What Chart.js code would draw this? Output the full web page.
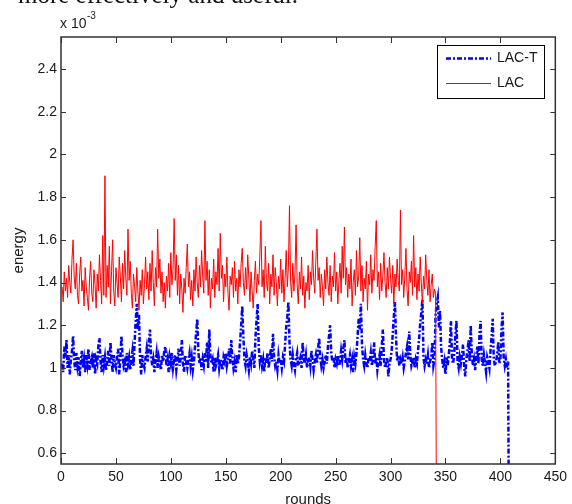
<!DOCTYPE html>
<html lang="en">
<head>
    <meta charset="UTF-8">
    <title>LAC vs LAC-T energy per round</title>
    <script src="https://cdn.jsdelivr.net/npm/chart.js@4.4.0/dist/chart.umd.min.js"></script>
    <style>
        body { margin: 0; background: #fff; }
        #wrap { position: relative; width: 572px; height: 504px; }
    </style>
</head>
<body>
    <div id="wrap">
        <canvas id="energyChart" width="572" height="504"></canvas>
    </div>
    <script>
    // axis ticks
    var roundTicks = [0, 50, 100, 150, 200, 250, 300, 350, 400, 450];
    var energyTicks = [0.6, 0.8, 1, 1.2, 1.4, 1.6, 1.8, 2, 2.2, 2.4];

    // energy (x 10^-3) per round, starting at round 1; last value is where the network dies
    var lacT = [
        1.02, 0.98, 1.10, 1.05, 1.13, 1.00, 1.06, 0.97, 1.04, 1.08, 1.15, 1.03, 0.99, 1.07, 1.01, 1.05, 0.96, 1.03, 1.08, 1.00,
        1.04, 0.98, 1.06, 1.02, 1.09, 0.99, 1.03, 1.05, 1.00, 1.07, 0.97, 1.04, 1.02, 1.10, 1.14, 1.03, 0.98, 1.06, 1.01, 1.05,
        0.99, 1.03, 1.08, 1.01, 1.12, 1.04, 0.98, 1.06, 1.02, 1.00, 1.05, 1.09, 0.97, 1.04, 1.15, 1.06, 1.01, 1.03, 0.98, 1.07,
        1.02, 1.05, 0.99, 1.04, 1.08, 1.01, 1.12, 1.22, 1.30, 1.18, 1.25, 1.04, 0.97, 1.06, 1.02, 1.00, 1.05, 1.09, 1.03, 1.12,
        1.18, 1.06, 1.01, 1.04, 0.98, 1.03, 1.07, 1.00, 1.05, 1.02, 0.99, 1.06, 1.03, 1.08, 1.10, 1.01, 1.04, 0.98, 1.05, 1.02,
        1.07, 1.00, 1.04, 1.06, 0.99, 1.03, 1.09, 1.01, 1.05, 1.13, 1.02, 0.98, 1.06, 1.03, 1.00, 1.04, 1.07, 1.01, 1.05, 0.99,
        1.03, 1.10, 1.16, 1.23, 1.08, 1.02, 1.05, 0.99, 1.04, 1.01, 1.07, 1.03, 1.12, 1.00, 1.18, 1.06, 1.02, 1.04, 0.98, 1.05,
        1.01, 1.03, 1.06, 1.00, 1.04, 1.02, 0.99, 1.05, 1.03, 1.07, 1.01, 1.04, 1.09, 1.02, 1.13, 1.05, 1.00, 1.03, 0.98, 1.06,
        1.02, 1.05, 1.12, 1.20, 1.29, 1.15, 1.04, 1.01, 1.06, 1.03, 0.99, 1.05, 1.02, 1.08, 1.04, 1.00, 1.14, 1.22, 1.30, 1.10,
        1.03, 1.06, 1.01, 1.04, 0.98, 1.05, 1.02, 1.07, 1.00, 1.04, 1.09, 1.03, 1.16, 1.05, 1.01, 1.03, 0.99, 1.06, 1.02, 1.04,
        1.00, 1.05, 1.03, 1.11, 1.19, 1.24, 1.31, 1.12, 1.04, 1.01, 1.06, 1.02, 0.99, 1.04, 1.07, 1.01, 1.03, 1.05, 1.00, 1.12,
        1.04, 1.02, 1.06, 1.00, 1.03, 1.05, 1.01, 1.08, 1.04, 0.99, 1.03, 1.06, 1.02, 1.09, 1.14, 1.05, 1.01, 1.04, 1.00, 1.03,
        1.06, 1.02, 1.10, 1.15, 1.20, 1.07, 1.03, 1.05, 1.00, 1.04, 1.02, 1.06, 1.01, 1.03, 1.08, 1.04, 1.09, 1.13, 1.02, 1.05,
        1.00, 1.03, 1.06, 1.01, 1.04, 0.98, 1.05, 1.02, 1.07, 1.15, 1.23, 1.18, 1.30, 1.11, 1.04, 1.01, 1.06, 1.02, 1.00, 1.05,
        1.03, 1.07, 1.01, 1.04, 1.12, 1.02, 1.05, 0.99, 1.03, 1.06, 1.01, 1.10, 1.18, 1.04, 1.00, 1.03, 1.05, 0.96, 1.02, 1.04,
        1.08, 1.16, 1.24, 1.31, 1.14, 1.03, 1.06, 1.01, 1.04, 1.02, 1.05, 1.00, 1.03, 1.07, 1.10, 1.04, 1.17, 1.06, 1.01, 1.03,
        1.05, 1.00, 1.04, 1.02, 1.08, 1.14, 1.21, 1.26, 1.32, 1.05, 1.01, 1.04, 1.02, 1.06, 1.00, 1.03, 1.05, 1.12, 1.01, 1.04,
        1.25, 1.30, 1.33, 1.19, 1.27, 1.10, 1.04, 1.00, 1.03, 0.97, 1.05, 1.01, 1.06, 1.12, 1.22, 1.04, 1.02, 1.07, 1.15, 1.22,
        1.03, 1.00, 1.05, 1.02, 1.06, 1.11, 1.01, 0.96, 1.04, 1.08, 1.13, 1.03, 1.20, 1.06, 1.01, 1.04, 0.99, 1.05, 1.10, 1.02,
        1.16, 1.22, 1.04, 1.01, 1.06, 1.02, 0.98, 1.05, 1.03, 1.00, 1.08, 1.15, 1.23, 1.04, 1.01, 1.03, 1.06, 1.12, 1.02, 1.04,
        1.18, 1.26, 1.05, 1.01, 1.04, 1.00, 1.03, 0
    ];
    var lac = [
        1.38, 1.31, 1.45, 1.36, 1.42, 1.33, 1.48, 1.40, 1.35, 1.51, 1.60, 1.43, 1.37, 1.49, 1.34, 1.30, 1.44, 1.52, 1.36, 1.41,
        1.29, 1.47, 1.38, 1.33, 1.27, 1.42, 1.50, 1.35, 1.31, 1.46, 1.39, 1.28, 1.44, 1.36, 1.53, 1.41, 1.30, 1.62, 1.34, 1.90,
        1.33, 1.48, 1.38, 1.57, 1.30, 1.45, 1.60, 1.36, 1.29, 1.47, 1.40, 1.33, 1.52, 1.43, 1.31, 1.49, 1.37, 1.55, 1.42, 1.34,
        1.65, 1.41, 1.50, 1.35, 1.28, 1.44, 1.38, 1.31, 1.47, 1.36, 1.27, 1.41, 1.34, 1.46, 1.30, 1.39, 1.52, 1.37, 1.45, 1.32,
        1.49, 1.36, 1.55, 1.40, 1.29, 1.47, 1.38, 1.65, 1.42, 1.51, 1.35, 1.45, 1.31, 1.40, 1.28, 1.43, 1.36, 1.49, 1.33, 1.54,
        1.39, 1.46, 1.70, 1.41, 1.53, 1.34, 1.48, 1.30, 1.44, 1.37, 1.26, 1.42, 1.35, 1.47, 1.58, 1.38, 1.45, 1.32, 1.41, 1.29,
        1.46, 1.36, 1.52, 1.40, 1.33, 1.48, 1.38, 1.55, 1.43, 1.35, 1.69, 1.41, 1.50, 1.34, 1.46, 1.28, 1.42, 1.37, 1.51, 1.33,
        1.45, 1.39, 1.56, 1.36, 1.63, 1.42, 1.48, 1.31, 1.44, 1.38, 1.52, 1.35, 1.27, 1.43, 1.39, 1.47, 1.33, 1.50, 1.36, 1.42,
        1.30, 1.46, 1.38, 1.49, 1.56, 1.40, 1.34, 1.47, 1.37, 1.53, 1.42, 1.31, 1.45, 1.36, 1.28, 1.41, 1.50, 1.35, 1.44, 1.39,
        1.52, 1.69, 1.38, 1.46, 1.33, 1.57, 1.41, 1.36, 1.49, 1.30, 1.44, 1.38, 1.53, 1.34, 1.47, 1.40, 1.29, 1.43, 1.37, 1.51,
        1.35, 1.46, 1.31, 1.42, 1.55, 1.38, 1.47, 1.76, 1.40, 1.33, 1.49, 1.36, 1.44, 1.67, 1.39, 1.30, 1.45, 1.37, 1.52, 1.34,
        1.43, 1.28, 1.40, 1.36, 1.48, 1.32, 1.45, 1.39, 1.55, 1.42, 1.35, 1.50, 1.65, 1.41, 1.47, 1.33, 1.44, 1.38, 1.29, 1.46,
        1.37, 1.52, 1.40, 1.34, 1.48, 1.31, 1.43, 1.38, 1.54, 1.36, 1.45, 1.30, 1.41, 1.49, 1.35, 1.57, 1.42, 1.66, 1.39, 1.47,
        1.33, 1.44, 1.37, 1.51, 1.29, 1.40, 1.46, 1.34, 1.55, 1.38, 1.43, 1.61, 1.36, 1.48, 1.31, 1.42, 1.37, 1.50, 1.27, 1.44,
        1.39, 1.53, 1.35, 1.46, 1.41, 1.57, 1.69, 1.38, 1.45, 1.32, 1.49, 1.36, 1.43, 1.54, 1.40, 1.33, 1.47, 1.37, 1.52, 1.42,
        1.35, 1.48, 1.30, 1.44, 1.38, 1.51, 1.41, 1.36, 1.74, 1.39, 1.46, 1.33, 1.43, 1.56, 1.37, 1.29, 1.45, 1.40, 1.50, 1.34,
        1.62, 1.38, 1.47, 1.32, 1.44, 1.36, 1.52, 1.40, 1.30, 1.43, 1.37, 1.53, 1.41, 1.34, 1.46, 1.31, 1.39, 1.44, 1.33, 1.37,
        1.35, 0
    ];

    var sans = 'Liberation Sans, Arial, sans-serif';

    function toPoints(values) {
        return values.map(function (v, i) { return { x: i + 1, y: v }; });
    }

    // matlab style box, inward ticks, exponent, axis titles and legend
    var matlabFrame = {
        id: 'matlabFrame',
        afterDraw: function (chart) {
            var ctx = chart.ctx;
            var a = chart.chartArea;
            var xs = chart.scales.x;
            var ys = chart.scales.y;
            ctx.save();

            ctx.strokeStyle = '#333';
            ctx.lineWidth = 1;
            ctx.beginPath();
            xs.ticks.forEach(function (t) {
                var p = Math.round(xs.getPixelForValue(t.value)) + 0.5;
                ctx.moveTo(p, a.bottom); ctx.lineTo(p, a.bottom - 6);
                ctx.moveTo(p, a.top); ctx.lineTo(p, a.top + 6);
            });
            ys.ticks.forEach(function (t) {
                var p = Math.round(ys.getPixelForValue(t.value)) + 0.5;
                ctx.moveTo(a.left, p); ctx.lineTo(a.left + 5, p);
                ctx.moveTo(a.right, p); ctx.lineTo(a.right - 5, p);
            });
            ctx.stroke();
            ctx.lineWidth = 1.5;
            ctx.strokeRect(a.left, a.top, a.right - a.left, a.bottom - a.top);

            // cut-off line of the surrounding paper text
            ctx.fillStyle = '#111';
            ctx.font = '25px "Liberation Serif", "Times New Roman", serif';
            ctx.textBaseline = 'alphabetic';
            ctx.textAlign = 'left';
            ctx.fillText('more effectively and useful.', 18, 3);

            ctx.fillStyle = '#1a1a1a';
            ctx.font = '14px ' + sans;
            ctx.fillText('x 10', 60, 28);
            ctx.font = '10px ' + sans;
            ctx.fillText('-3', 87, 19);

            ctx.font = '15px ' + sans;
            ctx.textAlign = 'center';
            ctx.textBaseline = 'middle';
            ctx.fillText('rounds', (a.left + a.right) / 2, 500);
            ctx.save();
            ctx.translate(19, (a.top + a.bottom) / 2);
            ctx.rotate(-Math.PI / 2);
            ctx.fillText('energy', 0, 0);
            ctx.restore();

            // legend
            ctx.fillStyle = '#fff';
            ctx.fillRect(437, 45, 107, 53);
            ctx.strokeStyle = '#000';
            ctx.lineWidth = 1;
            ctx.strokeRect(437.5, 45.5, 107, 53);
            ctx.font = '14px ' + sans;
            ctx.textAlign = 'left';
            chart.data.datasets.forEach(function (ds, i) {
                var y = 58.5 + i * 25;
                ctx.strokeStyle = ds.borderColor;
                ctx.lineWidth = ds.borderWidth;
                ctx.setLineDash(ds.borderDash || []);
                ctx.beginPath();
                ctx.moveTo(446, y);
                ctx.lineTo(491, y);
                ctx.stroke();
                ctx.setLineDash([]);
                ctx.fillStyle = '#1a1a1a';
                ctx.fillText(ds.label, 497, y);
            });
            ctx.restore();
        }
    };

    var ctx = document.getElementById('energyChart').getContext('2d');
    var chart = new Chart(ctx, {
        type: 'line',
        data: {
            datasets: [{
                label: 'LAC-T',
                data: toPoints(lacT),
                borderColor: '#0000ff',
                borderWidth: 2.5,
                borderDash: [5, 2, 2, 2],
                pointRadius: 0,
                fill: false,
                order: 2
            }, {
                label: 'LAC',
                data: toPoints(lac),
                borderColor: '#ff0000',
                borderWidth: 1,
                pointRadius: 0,
                fill: false,
                order: 1
            }]
        },
        options: {
            responsive: false,
            animation: false,
            layout: { padding: { top: 37, right: 16, left: 0, bottom: 0 } },
            plugins: {
                legend: { display: false },
                tooltip: { enabled: false }
            },
            scales: {
                x: {
                    type: 'linear',
                    min: 0,
                    max: 450,
                    afterBuildTicks: function (scale) {
                        scale.ticks = roundTicks.map(function (v) { return { value: v }; });
                    },
                    afterFit: function (scale) { scale.height = 40; },
                    grid: { display: false, drawTicks: false },
                    border: { display: false },
                    ticks: {
                        padding: 5,
                        color: '#1a1a1a',
                        maxRotation: 0,
                        autoSkip: false,
                        font: { family: sans, size: 14 }
                    }
                },
                y: {
                    min: 0.55,
                    max: 2.55,
                    afterBuildTicks: function (scale) {
                        scale.ticks = energyTicks.map(function (v) { return { value: v }; });
                    },
                    afterFit: function (scale) { scale.width = 61; },
                    grid: { display: false, drawTicks: false },
                    border: { display: false },
                    ticks: {
                        padding: 4,
                        color: '#1a1a1a',
                        font: { family: sans, size: 14 },
                        callback: function (v) { return String(Math.round(v * 10) / 10); }
                    }
                }
            }
        },
        plugins: [matlabFrame]
    });
    </script>
</body>
</html>
